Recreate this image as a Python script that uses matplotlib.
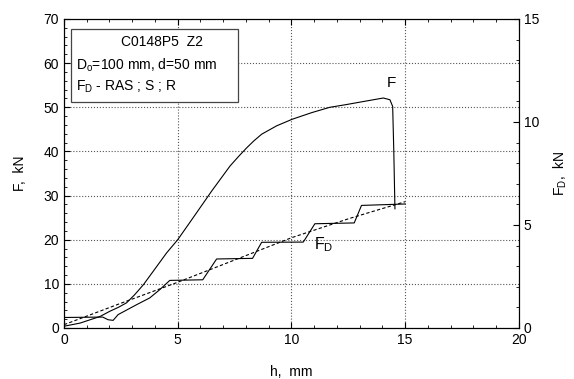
import numpy as np
import matplotlib.pyplot as plt
from matplotlib.ticker import MultipleLocator

plt.rcParams['font.family'] = ['Liberation Sans', 'DejaVu Sans']
plt.rcParams['font.size'] = 10

# F (left axis, kN) vs h (mm)
h_F = [0, 0.7, 1.58, 2.02, 2.4, 2.75, 3.1, 3.49, 3.93, 4.51, 5.0, 5.68, 6.49,
       7.30, 7.7, 8.03, 8.35, 8.69, 9.35, 10.04, 10.9, 11.69, 12.4, 13.16,
       14.04, 14.33, 14.45, 14.5, 14.55]
F = [0.4, 1.1, 2.6, 3.8, 4.7, 5.7, 7.5, 9.8, 12.9, 17.0, 20.0, 25.0, 31.0,
     36.7, 39.0, 40.8, 42.4, 43.9, 45.8, 47.3, 48.8, 50.0, 50.6, 51.3,
     52.1, 51.7, 50.2, 40.0, 27.0]

# F_D (right axis, kN), stepped
h_D = [0, 1.7, 1.94, 2.16, 2.38, 3.19, 3.77, 4.21, 4.65, 6.1, 6.71, 8.29, 8.69,
       10.52, 11.03, 12.76, 13.08, 15.0]
FD = [0.51, 0.53, 0.40, 0.37, 0.65, 1.13, 1.46, 1.86, 2.31, 2.34, 3.35, 3.38, 4.16,
      4.17, 5.06, 5.10, 5.95, 6.02]

# F_D fitted (dashed)
h_fit = [0, 2.5, 5, 7.5, 10, 12.5, 15]
FD_fit = [0.16, 1.2, 2.22, 3.3, 4.38, 5.3, 6.13]

fig = plt.figure(figsize=(5.74, 3.79), dpi=100)
ax = fig.add_axes([0.1115, 0.1346, 0.7925, 0.8153])
ax2 = ax.twinx()

ax.plot(h_F, F, color='black', lw=0.8)
ax2.plot(h_D, FD, color='black', lw=0.8)
ax2.plot(h_fit, FD_fit, color='black', lw=0.8, ls=(0, (3, 2)))

ax.set_xlim(0, 20)
ax.set_ylim(0, 70)
ax2.set_ylim(0, 15)
ax.xaxis.set_major_locator(MultipleLocator(5))
ax.xaxis.set_minor_locator(MultipleLocator(1))
ax.yaxis.set_major_locator(MultipleLocator(10))
ax.yaxis.set_minor_locator(MultipleLocator(2))
ax2.yaxis.set_major_locator(MultipleLocator(5))
ax2.yaxis.set_minor_locator(MultipleLocator(1))

ax.grid(True, which='major', ls=':', color='#555555', lw=0.8)
ax.tick_params(which='both', direction='in', top=True, right=False)
ax.tick_params(which='major', length=4)
ax.tick_params(which='minor', length=2)
ax2.tick_params(which='both', direction='in')
ax2.tick_params(which='major', length=4)
ax2.tick_params(which='minor', length=2)

ax.set_xlabel('h,  mm', labelpad=13)
ax.set_ylabel('F,  kN', labelpad=12)
ax2.set_ylabel('F$_\\mathregular{D}$,  kN', labelpad=9)

ax.text(14.4, 55.5, 'F', fontsize=11, ha='center', va='center')
ax2.text(11.4, 4.05, 'F$_\\mathregular{D}$', fontsize=11.5, ha='center', va='center')

# info box
box_x, box_y = 0.016, 0.731
ax.add_patch(plt.Rectangle((box_x, box_y), 0.366, 0.237, transform=ax.transAxes,
                           fill=True, facecolor='white', edgecolor='#444444',
                           lw=0.9, zorder=5))
ax.text(0.215, 0.926, 'C0148P5  Z2', transform=ax.transAxes, ha='center',
        va='center', zorder=6)
ax.text(0.027, 0.851, 'D$_\\mathregular{o}$=100 mm, d=50 mm',
        transform=ax.transAxes, ha='left', va='center', zorder=6)
ax.text(0.027, 0.78, 'F$_\\mathregular{D}$ - RAS ; S ; R',
        transform=ax.transAxes, ha='left', va='center', zorder=6)

fig.savefig('out.png', dpi=100)
